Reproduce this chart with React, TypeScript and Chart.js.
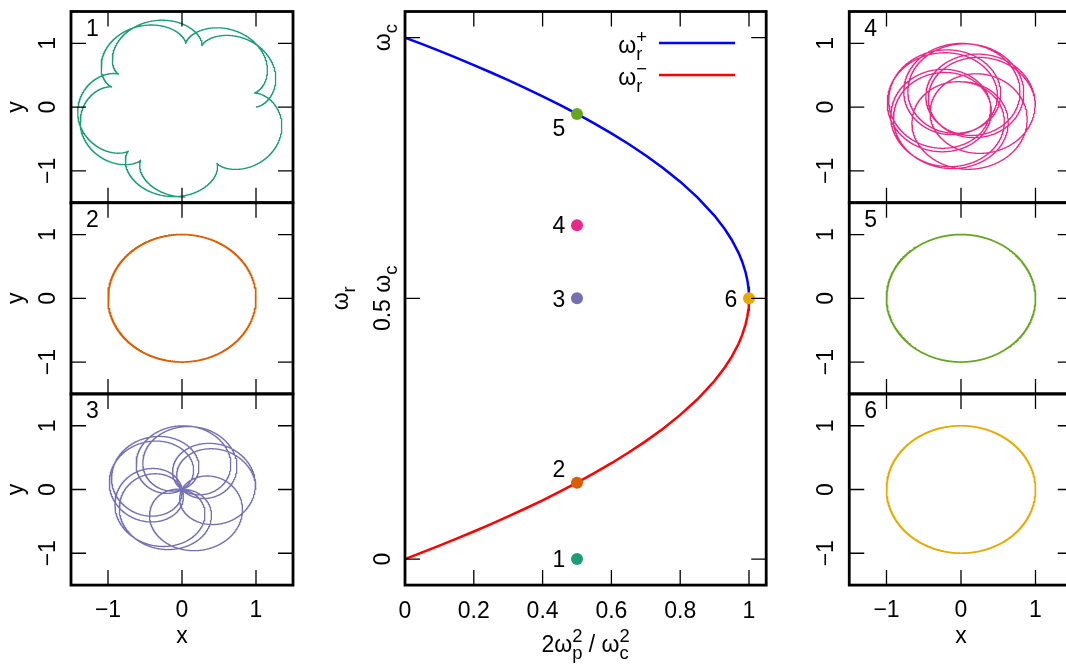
import React, { useEffect, useRef } from 'react';
import { Chart, registerables } from 'chart.js';

Chart.register(...registerables);

// ---- rotation frequencies of the rigid-rotor plasma (units of ωc) ----
// horizontal coordinate 2ωp²/ωc²
const densityGrid = [0, 0.05, 0.1, 0.15, 0.2, 0.25, 0.3, 0.35, 0.4, 0.45, 0.5, 0.55, 0.6, 0.65, 0.7, 0.75, 0.8, 0.85, 0.9, 0.93, 0.95, 0.97, 0.98, 0.99, 0.995, 0.998, 0.9995, 1];
// upper branch ω_r^+
const omegaPlus = [1, 0.98734, 0.97434, 0.96098, 0.94721, 0.93301, 0.91833, 0.90311, 0.8873, 0.87081, 0.85355, 0.83541, 0.81623, 0.7958, 0.77386, 0.75, 0.72361, 0.69365, 0.65811, 0.63229, 0.6118, 0.5866, 0.57071, 0.55, 0.53536, 0.52236, 0.51118, 0.5];
// lower branch ω_r^-
const omegaMinus = [0, 0.01266, 0.02566, 0.03902, 0.05279, 0.06699, 0.08167, 0.09689, 0.1127, 0.12919, 0.14645, 0.16459, 0.18377, 0.2042, 0.22614, 0.25, 0.27639, 0.30635, 0.34189, 0.36771, 0.3882, 0.4134, 0.42929, 0.45, 0.46464, 0.47764, 0.48882, 0.5];

// ---- the six marked states ----
const stateNames = ['1', '2', '3', '4', '5', '6'];
const stateDensity = [0.5, 0.5, 0.5, 0.5, 0.5, 1];
const stateRotation = [0, 0.1464, 0.5, 0.64, 0.8536, 0.5];
const stateOmegaPlus = [0.8536, 0.8536, 0.8536, 0.8536, 0.8536, 0.5];
const stateOmegaMinus = [0.1464, 0.1464, 0.1464, 0.1464, 0.1464, 0.5];
const stateColors = ['#1b9e77', '#d95f02', '#7570b3', '#e7298a', '#66a61e', '#e6ab02'];

// single-particle orbit, released at (1, 0) co-rotating with the column; t in units of 1/ωc
const orbitDuration = 24 * Math.PI;
const orbitSamples = 4000;

// ---- ticks ----
const centralXTicks = [0, 0.2, 0.4, 0.6, 0.8, 1];
const centralXTickLabels = ['0', '0.2', '0.4', '0.6', '0.8', '1'];
const centralYTicks = [0, 0.5, 1];
const centralYTickLabels = [['0', ''], ['0.5 ω', 'c'], ['ω', 'c']];
const panelTicks = [-1, 0, 1];
const panelTickLabels = ['\u22121', '0', '1'];

// ---- layout / style ----
const CANVAS_W = 1080;
const CANVAS_H = 668;
const FONT = '"Liberation Sans", Arial, Helvetica, sans-serif';
const FS = 23;
const FRAME_W = 2.8;
const TICK_W = 1.3;
const TICK_LEN = 15;
const ROWS = [11.5, 202.7, 393.9, 585.1];
const LEFT_COL = [71, 293];
const RIGHT_COL = [849.25, 1072.75];
const CENTER_X = [405, 766.2];
const LABEL_SHIFT = [[-18, 0], [-18, -14], [-18, 0], [-18, 0], [-18, 14], [-18, 0]];

type Piece = { text: string; scale?: number; rise?: number; stack?: boolean };
const sub = (text: string): Piece => ({ text, scale: 0.8, rise: -0.3 });
const sup = (text: string): Piece => ({ text, scale: 0.8, rise: 0.45, stack: true });

function richText(
  ctx: CanvasRenderingContext2D,
  pieces: Piece[],
  x: number,
  y: number,
  align: 'left' | 'center' | 'right',
  rotated = false,
  size = FS,
) {
  ctx.save();
  ctx.translate(x, y);
  if (rotated) ctx.rotate(-Math.PI / 2);
  ctx.textAlign = 'left';
  ctx.textBaseline = 'alphabetic';
  ctx.fillStyle = '#000';
  let cursor = 0;
  let prevStart = 0;
  const placed: { p: Piece; s: number; start: number }[] = [];
  for (const p of pieces) {
    if (!p.text) continue;
    const s = size * (p.scale ?? 1);
    ctx.font = `${s}px ${FONT}`;
    const w = ctx.measureText(p.text).width;
    const start = p.stack ? prevStart : cursor;
    placed.push({ p, s, start });
    cursor = Math.max(cursor, start + w);
    prevStart = start;
  }
  const x0 = align === 'center' ? -cursor / 2 : align === 'right' ? -cursor : 0;
  for (const { p, s, start } of placed) {
    ctx.font = `${s}px ${FONT}`;
    ctx.fillText(p.text, x0 + start, -(p.rise ?? 0) * size);
  }
  ctx.restore();
}

function orbit(i: number) {
  const wr = stateRotation[i];
  const wp = stateOmegaPlus[i];
  const wm = stateOmegaMinus[i];
  const split = wp - wm;
  const ap = split > 1e-9 ? (wr - wm) / split : 0;
  const am = 1 - ap;
  const pts: { x: number; y: number }[] = [];
  for (let k = 0; k <= orbitSamples; k++) {
    const t = (orbitDuration * k) / orbitSamples;
    pts.push({
      x: am * Math.cos(wm * t) + ap * Math.cos(wp * t),
      y: am * Math.sin(wm * t) + ap * Math.sin(wp * t),
    });
  }
  return pts;
}

function frameAndTicks(chart: any, xTicks: number[], yTicks: number[]) {
  const { ctx, chartArea: a, scales } = chart;
  ctx.save();
  ctx.strokeStyle = '#000';
  ctx.lineWidth = TICK_W;
  ctx.beginPath();
  for (const v of xTicks) {
    const px = scales.x.getPixelForValue(v);
    ctx.moveTo(px, a.bottom);
    ctx.lineTo(px, a.bottom - TICK_LEN);
    ctx.moveTo(px, a.top);
    ctx.lineTo(px, a.top + TICK_LEN);
  }
  for (const v of yTicks) {
    const py = scales.y.getPixelForValue(v);
    ctx.moveTo(a.left, py);
    ctx.lineTo(a.left + TICK_LEN, py);
    ctx.moveTo(a.right, py);
    ctx.lineTo(a.right - TICK_LEN, py);
  }
  ctx.stroke();
  ctx.lineWidth = FRAME_W;
  ctx.strokeRect(a.left, a.top, a.right - a.left, a.bottom - a.top);
  ctx.restore();
}

function drawPanelDecor(chart: any, i: number) {
  const { ctx, chartArea: a, scales } = chart;
  const onRight = i >= 3;
  const row = i % 3;
  frameAndTicks(chart, panelTicks, panelTicks);
  panelTicks.forEach((v, k) => {
    richText(ctx, [{ text: panelTickLabels[k] }], a.left - 16, scales.y.getPixelForValue(v), 'center', true);
  });
  const midY = (a.top + a.bottom) / 2;
  if (!onRight) richText(ctx, [{ text: 'y' }], 23, midY, 'center', true);
  if (row === 2) {
    panelTicks.forEach((v, k) => {
      richText(ctx, [{ text: panelTickLabels[k] }], scales.x.getPixelForValue(v), a.bottom + 32, 'center');
    });
    richText(ctx, [{ text: 'x' }], scales.x.getPixelForValue(0), a.bottom + 58, 'center');
  }
  richText(ctx, [{ text: stateNames[i] }], a.left + 21.5, a.top + 24.5, 'center');
}

function drawCentralDecor(chart: any) {
  const { ctx, chartArea: a, scales } = chart;
  frameAndTicks(chart, centralXTicks.filter((v) => v > 0), centralYTicks);
  centralXTicks.forEach((v, k) => {
    richText(ctx, [{ text: centralXTickLabels[k] }], scales.x.getPixelForValue(v), a.bottom + 33, 'center');
  });
  richText(
    ctx,
    [{ text: '2ω' }, sub('p'), sup('2'), { text: ' / ω' }, sub('c'), sup('2')],
    (a.left + a.right) / 2,
    a.bottom + 67,
    'center',
  );
  centralYTicks.forEach((v, k) => {
    const [main, low] = centralYTickLabels[k];
    richText(ctx, [{ text: main }, sub(low)], a.left - 15, scales.y.getPixelForValue(v), 'center', true);
  });
  richText(ctx, [{ text: 'ω' }, sub('r')], 348, (a.top + a.bottom) / 2, 'center', true);

  // legend
  const legend = [
    { sign: '+', color: '#0000ff', y: 43 },
    { sign: '\u2212', color: '#ff0000', y: 75 },
  ];
  ctx.save();
  for (const e of legend) {
    richText(ctx, [{ text: 'ω' }, sub('r'), sup(e.sign)], 647, e.y + 10, 'right');
    ctx.strokeStyle = e.color;
    ctx.lineWidth = 2.5;
    ctx.beginPath();
    ctx.moveTo(659, e.y);
    ctx.lineTo(735, e.y);
    ctx.stroke();
  }
  ctx.restore();

  // state labels next to the markers
  stateNames.forEach((name, i) => {
    const px = scales.x.getPixelForValue(stateDensity[i]) + LABEL_SHIFT[i][0];
    const py = scales.y.getPixelForValue(stateRotation[i]) + LABEL_SHIFT[i][1];
    richText(ctx, [{ text: name }], px, py + 8.2, 'center');
  });
}

const baseOptions = (padding: any, xr: number[], yr: number[]) => ({
  responsive: false,
  animation: false,
  devicePixelRatio: 1,
  events: [],
  layout: { padding },
  scales: {
    x: { type: 'linear', min: xr[0], max: xr[1], display: false },
    y: { type: 'linear', min: yr[0], max: yr[1], display: false },
  },
  plugins: { legend: { display: false }, tooltip: { enabled: false } },
});

function panelConfig(i: number): any {
  const onRight = i >= 3;
  const [l, r] = onRight ? RIGHT_COL : LEFT_COL;
  const row = i % 3;
  const circle = i === 1 || i === 4 || i === 5;
  return {
    type: 'scatter',
    data: {
      datasets: [
        {
          data: orbit(i),
          showLine: true,
          borderColor: stateColors[i],
          borderWidth: circle ? 1.7 : 1.3,
          pointRadius: 0,
          tension: 0,
          borderJoinStyle: 'round',
        },
      ],
    },
    options: baseOptions(
      { left: l, right: CANVAS_W - r, top: ROWS[row], bottom: CANVAS_H - ROWS[row + 1] },
      [-1.5, 1.5],
      [-1.5, 1.5],
    ),
    plugins: [{ id: 'panelDecor', afterDraw: (chart: any) => drawPanelDecor(chart, i) }],
  };
}

function centralConfig(): any {
  return {
    type: 'scatter',
    data: {
      datasets: [
        {
          label: 'states',
          data: stateDensity.map((x, i) => ({ x, y: stateRotation[i] })),
          pointRadius: 6,
          pointBackgroundColor: stateColors,
          pointBorderWidth: 0,
          showLine: false,
          order: 0,
        },
        {
          label: 'ω_r^+',
          data: densityGrid.map((x, k) => ({ x, y: omegaPlus[k] })),
          showLine: true,
          borderColor: '#0000ff',
          borderWidth: 2.5,
          pointRadius: 0,
          tension: 0,
          order: 1,
        },
        {
          label: 'ω_r^-',
          data: densityGrid.map((x, k) => ({ x, y: omegaMinus[k] })),
          showLine: true,
          borderColor: '#ff0000',
          borderWidth: 2.5,
          pointRadius: 0,
          tension: 0,
          order: 1,
        },
      ],
    },
    options: baseOptions(
      { left: CENTER_X[0], right: CANVAS_W - CENTER_X[1], top: ROWS[0], bottom: CANVAS_H - ROWS[3] },
      [0, 1.05],
      [-0.05, 1.05],
    ),
    plugins: [{ id: 'centralDecor', afterDraw: (chart: any) => drawCentralDecor(chart) }],
  };
}

function ChartLayer({ build }: { build: () => any }) {
  const ref = useRef<HTMLCanvasElement>(null);
  useEffect(() => {
    const chart = new Chart(ref.current as HTMLCanvasElement, build());
    return () => chart.destroy();
  }, []);
  return (
    <canvas
      ref={ref}
      width={CANVAS_W}
      height={CANVAS_H}
      style={{ position: 'absolute', left: 0, top: 0, width: CANVAS_W, height: CANVAS_H }}
    />
  );
}

export default function App() {
  return (
    <div
      style={{
        position: 'fixed',
        left: 0,
        top: 0,
        width: 1066,
        height: 668,
        overflow: 'hidden',
        background: '#fff',
      }}
    >
      <ChartLayer build={centralConfig} />
      {[0, 1, 2, 3, 4, 5].map((i) => (
        <ChartLayer key={i} build={() => panelConfig(i)} />
      ))}
    </div>
  );
}
